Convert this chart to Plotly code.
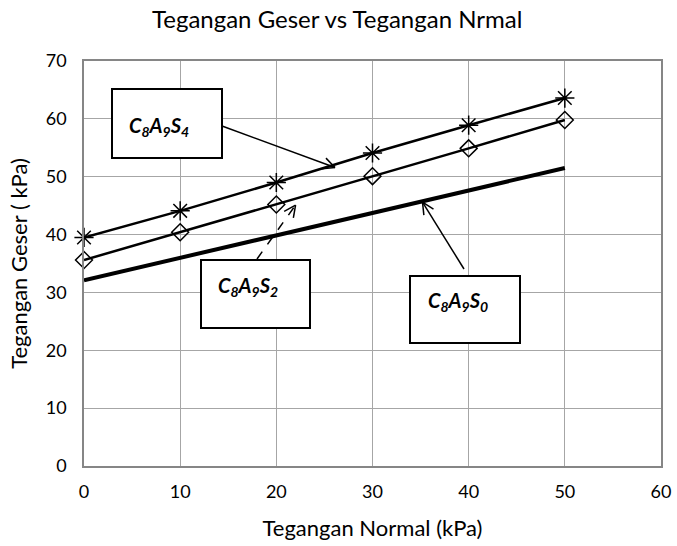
import math
import plotly.graph_objects as go

# ---------------- data ----------------
chart_title = "Tegangan Geser vs Tegangan Nrmal"
x_title = "Tegangan Normal (kPa)"
y_title = "Tegangan Geser ( kPa)"

normal_stress = [0, 10, 20, 30, 40, 50]
shear_c8a9s4 = [39.5, 44.1, 49.0, 54.1, 58.9, 63.6]
shear_c8a9s2 = [35.6, 40.4, 45.2, 50.1, 54.9, 59.8]
normal_c8a9s0 = [0, 50]
shear_c8a9s0 = [32.1, 51.5]

x_ticks = [0, 10, 20, 30, 40, 50, 60]
y_ticks = [0, 10, 20, 30, 40, 50, 60, 70]

label_texts = ["C<sub>8</sub>A<sub>9</sub>S<sub>4</sub>",
               "C<sub>8</sub>A<sub>9</sub>S<sub>2</sub>",
               "C<sub>8</sub>A<sub>9</sub>S<sub>0</sub>"]
# arrow targets (data coords)
arrow_targets = [(26.1, 51.6), (22.0, 45.1), (35.2, 45.6)]

# ---------------- layout geometry ----------------
W, H = 677, 546
L, R, T, B = 84, 16, 61, 80
PW, PH = W - L - R, H - T - B
XMAX, YMAX = 60, 70

def pxx(x):  # data x -> pixel
    return L + x / XMAX * PW

def pxy(y):
    return H - B - y / YMAX * PH

def paper_x(px):
    return (px - L) / PW

def paper_y(py):
    return (H - B - py) / PH

FONT = "Lato"

fig = go.Figure()
fig.add_trace(go.Scatter(x=normal_c8a9s0, y=shear_c8a9s0, mode="lines",
                         line=dict(color="black", width=4), showlegend=False,
                         cliponaxis=False))
fig.add_trace(go.Scatter(x=normal_stress, y=shear_c8a9s2, mode="lines+markers",
                         line=dict(color="black", width=2.5),
                         marker=dict(symbol="diamond-open", size=13, color="black",
                                     line=dict(width=1.5, color="black")),
                         showlegend=False, cliponaxis=False))
fig.add_trace(go.Scatter(x=normal_stress, y=shear_c8a9s4, mode="lines+markers",
                         line=dict(color="black", width=2.5),
                         marker=dict(symbol="asterisk-open", size=16, color="black",
                                     line=dict(width=1.5, color="black")),
                         showlegend=False, cliponaxis=False))

shapes = []
annotations = []

boxes = [
    dict(box=(112, 89, 222, 158), text=(127, 126), tail=(222, 126), dash="solid"),
    dict(box=(201, 260, 310, 328), text=(216, 286), tail=(257, 259), dash="dash"),
    dict(box=(410, 276, 520, 343), text=(426, 301), tail=(464, 269), dash="solid"),
]

for lab, tgt, bx in zip(label_texts, arrow_targets, boxes):
    x0, y0, x1, y1 = bx["box"]
    shapes.append(dict(type="rect", xref="paper", yref="paper",
                       x0=paper_x(x0), x1=paper_x(x1), y0=paper_y(y1), y1=paper_y(y0),
                       line=dict(color="black", width=2), fillcolor="white", layer="above"))
    tx, ty = bx["text"]
    annotations.append(dict(xref="paper", yref="paper", x=paper_x(tx), y=paper_y(ty),
                            xanchor="left", yanchor="middle", showarrow=False,
                            text="<b><i>" + lab + "</i></b>",
                            font=dict(family=FONT, size=20, color="black")))
    hx, hy = pxx(tgt[0]), pxy(tgt[1])
    sx, sy = bx["tail"]
    shapes.append(dict(type="line", xref="paper", yref="paper",
                       x0=paper_x(sx), y0=paper_y(sy), x1=paper_x(hx), y1=paper_y(hy),
                       line=dict(color="black", width=1.5, dash=bx["dash"]), layer="above"))
    ang = math.atan2(sy - hy, sx - hx)
    for d in (-0.45, 0.45):
        ex = hx + 13 * math.cos(ang + d)
        ey = hy + 13 * math.sin(ang + d)
        shapes.append(dict(type="line", xref="paper", yref="paper",
                           x0=paper_x(hx), y0=paper_y(hy), x1=paper_x(ex), y1=paper_y(ey),
                           line=dict(color="black", width=1.5), layer="above"))

annotations.append(dict(xref="paper", yref="paper", x=paper_x(337), y=paper_y(18),
                        xanchor="center", yanchor="middle", showarrow=False,
                        text=chart_title, font=dict(family=FONT, size=24, color="black")))

axis_common = dict(showgrid=True, gridcolor="#a6a6a6", gridwidth=1,
                   showline=True, linecolor="#868686", linewidth=1.5, mirror=True,
                   zeroline=False, ticks="", tickfont=dict(family=FONT, size=18, color="black"),
                   fixedrange=True, automargin=False)

fig.update_layout(
    width=W, height=H,
    margin=dict(l=L, r=R, t=T, b=B, autoexpand=False),
    paper_bgcolor="white", plot_bgcolor="white",
    xaxis=dict(range=[0, XMAX], tickvals=x_ticks, ticklabelstandoff=9,
               title=dict(text=x_title, font=dict(family=FONT, size=22, color="black"),
                          standoff=19), **axis_common),
    yaxis=dict(range=[0, YMAX], tickvals=y_ticks, ticklabelstandoff=12,
               title=dict(text=y_title, font=dict(family=FONT, size=22, color="black"),
                          standoff=12), **axis_common),
    shapes=shapes,
    annotations=annotations,
)

fig.write_html("out.html", config={"displayModeBar": False},
               post_script="document.body.style.margin='0px';")
